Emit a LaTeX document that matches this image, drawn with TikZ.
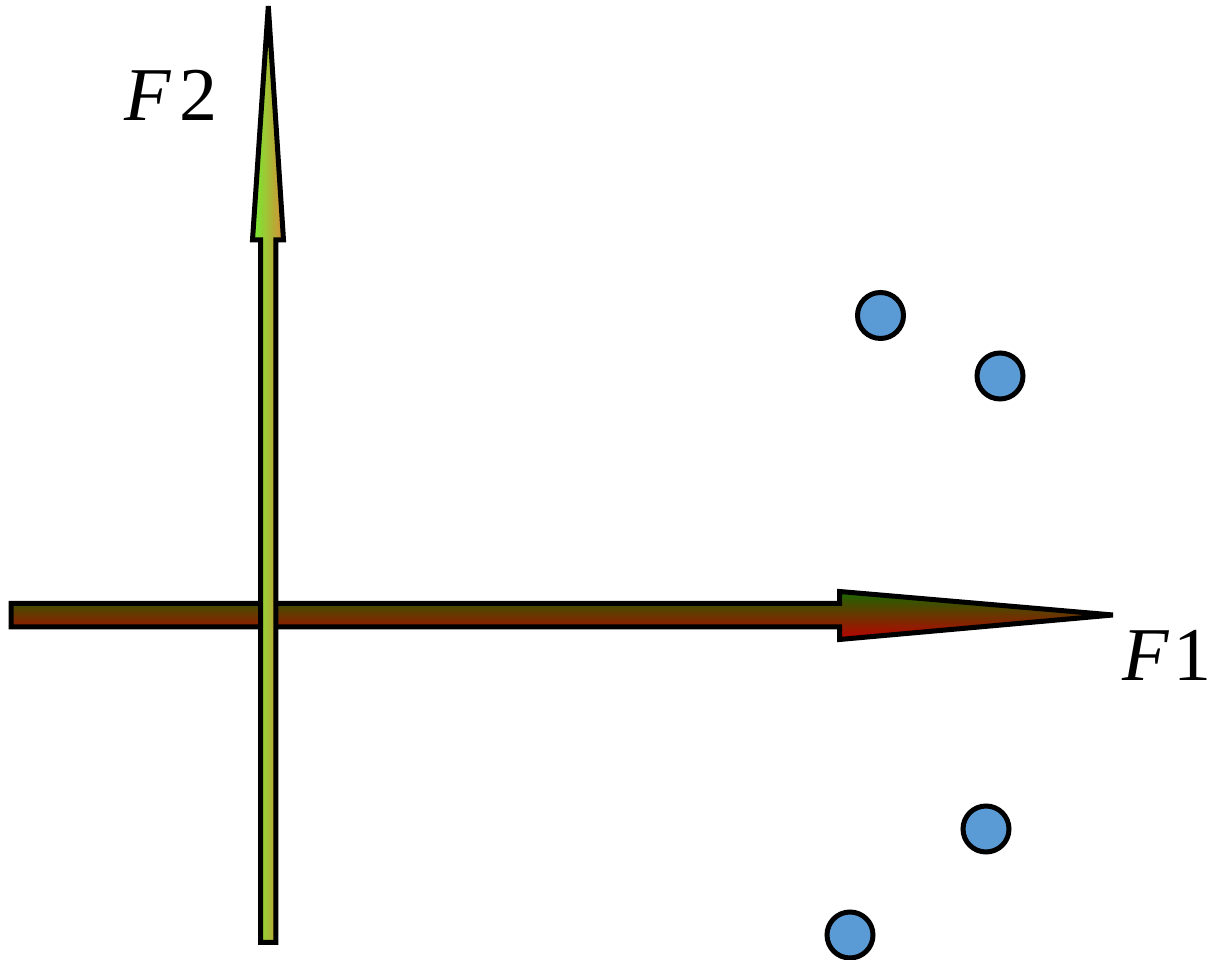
\documentclass[tikz,border=0pt]{standalone}
\usepackage{fontspec}
\setmainfont{Liberation Serif}
\tikzset{
  arrowshape/.style={draw=black, line width=5pt, line join=miter},
  dot/.style={circle, draw=black, line width=5pt, fill=dotblue, minimum size=46pt, inner sep=0pt},
  lbl/.style={font=\fontsize{76}{80}\selectfont, inner sep=0pt}
}
\definecolor{dotblue}{RGB}{91,155,213}
\definecolor{hgreen}{RGB}{25,105,0}
\definecolor{hred}{RGB}{190,0,0}
\definecolor{vgreen}{RGB}{115,240,50}
\definecolor{vorange}{RGB}{215,140,55}
\begin{document}
\begin{tikzpicture}[x=1pt,y=1pt]
\useasboundingbox (0,0) rectangle (1210,960);
% horizontal arrow F1
\coordinate (htip) at (1113,345);
\path[arrowshape, top color=hgreen, bottom color=hred]
  (11,356.5) -- (839.5,356.5) -- (839.5,368.5) -- (htip) -- (839.5,320.5)
  -- (839.5,333) -- (11,333) -- cycle;
% vertical arrow F2
\coordinate (vtip) at (268.3,954);
\path[arrowshape, left color=vgreen, right color=vorange]
  (260.5,17.5) -- (260.5,720) -- (252.5,720) -- (vtip) -- (283.5,720)
  -- (275.8,720) -- (275.8,17.5) -- cycle;
% labels
\node[lbl] (f2) at (171,865) {\textit{F}\kern8pt 2};
\node[lbl] (f1) at (1167,305) {\textit{F}\kern3pt 1};
% dots
\node[dot] (d1) at (880.5,644.5) {};
\node[dot] (d2) at (1000,584) {};
\node[dot] (d3) at (986,131) {};
\node[dot] (d4) at (850,25) {};
\end{tikzpicture}
\end{document}
